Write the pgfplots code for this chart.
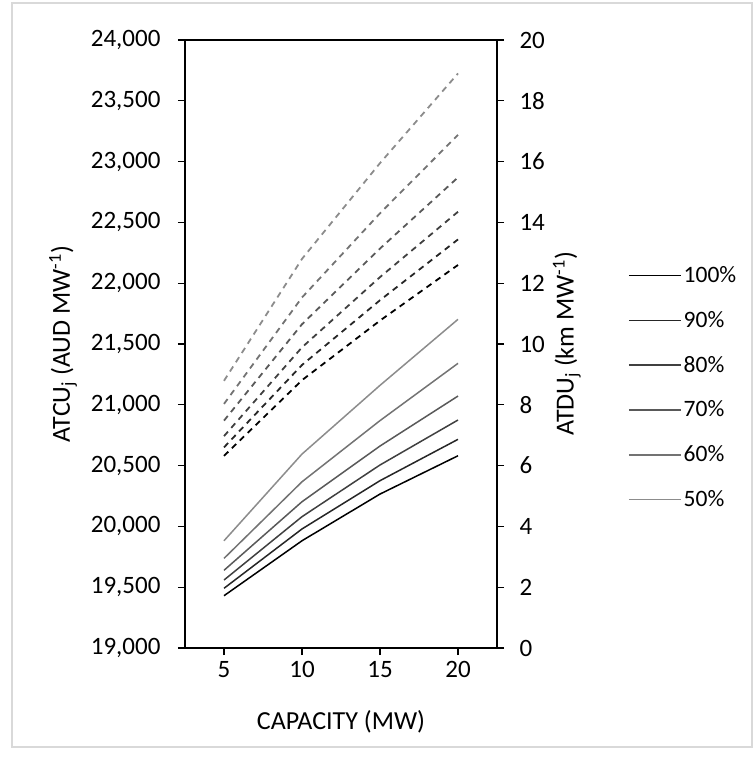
\documentclass[border=0pt]{standalone}
\usepackage{fontspec}
\setmainfont{Carlito}
\usepackage{pgfplots}
\pgfplotsset{compat=1.18}
\definecolor{c100}{HTML}{000000}
\definecolor{c90}{HTML}{262626}
\definecolor{c80}{HTML}{404040}
\definecolor{c70}{HTML}{595959}
\definecolor{c60}{HTML}{737373}
\definecolor{c50}{HTML}{8C8C8C}
\definecolor{frame}{HTML}{D9D9D9}
\begin{document}
\begin{tikzpicture}[x=1pt,y=1pt]
\path[use as bounding box] (0,0) rectangle (755,-760);
\draw[frame, line width=1.5pt] (12,-3) rectangle (752,-747);
\pgfplotsset{common/.style={scale only axis, width=312pt, height=608pt,
  at={(185pt,-648pt)}, anchor=south west,
  xmin=2.5, xmax=22.5, xtick={5,10,15,20},
  tick align=outside, major tick length=7pt,
  tick style={black, line width=1.2pt},
  axis line style={line width=1.3pt},
  /pgf/number format/assume math mode=true,
  ticklabel style={font=\fontsize{25}{30}\selectfont}}}
\begin{axis}[common,
  ymin=19000, ymax=24000, ytick={19000,19500,20000,20500,21000,21500,22000,22500,23000,23500,24000},
  ytick pos=left, xtick pos=bottom, scaled y ticks=false,
  yticklabel style={/pgf/number format/1000 sep={,}, xshift=-14pt},
  xticklabel style={yshift=-3pt},
  xlabel={CAPACITY (MW)},
  ylabel={ATCU\textsubscript{j} (AUD MW\textsuperscript{-1})},
  every axis y label/.style={at={(axis description cs:-0.391,0.5)}, rotate=90, anchor=center, font=\fontsize{26}{30}\selectfont},
  every axis x label/.style={at={(axis description cs:0.5,-0.1217)}, anchor=center, font=\fontsize{26}{30}\selectfont},
  legend style={draw=none, fill=none, at={(axis description cs:1.42,0.631)}, anchor=north west,
    font=\fontsize{23.5}{27}\selectfont, row sep=19.8pt, inner sep=0pt,
    nodes={inner sep=2pt, text height=16pt, text depth=5pt}},
  legend cell align=left,
  legend image code/.code={\draw[#1, line width=1.5pt] (0pt,1.5pt) -- (52pt,1.5pt);},
  ]
\addplot[c100, line width=1.5pt] coordinates {(5,19430) (10,19882) (15,20266) (20,20581)};
\addlegendentry{100\%}
\addplot[c90, line width=1.5pt] coordinates {(5,19491) (10,19979) (15,20376) (20,20716)};
\addlegendentry{90\%}
\addplot[c80, line width=1.5pt] coordinates {(5,19559) (10,20080) (15,20505) (20,20875)};
\addlegendentry{80\%}
\addplot[c70, line width=1.5pt] coordinates {(5,19639) (10,20203) (15,20661) (20,21072)};
\addlegendentry{70\%}
\addplot[c60, line width=1.5pt] coordinates {(5,19737) (10,20367) (15,20870) (20,21341)};
\addlegendentry{60\%}
\addplot[c50, line width=1.5pt] coordinates {(5,19882) (10,20595) (15,21160) (20,21703)};
\addlegendentry{50\%}
\end{axis}
\begin{axis}[common,
  ymin=0, ymax=20, ytick={0,2,...,20},
  axis y line*=right, axis x line=none,
  yticklabel style={xshift=12pt},
  ylabel={ATDU\textsubscript{j} (km MW\textsuperscript{-1})},
  every axis y label/.style={at={(axis description cs:1.224,0.5)}, rotate=90, anchor=center, font=\fontsize{26}{30}\selectfont},
  ]
\addplot[c100, line width=1.8pt, dash pattern=on 6pt off 5pt] coordinates {(5,6.32) (10,8.81) (15,10.77) (20,12.60)};
\addplot[c90, line width=1.8pt, dash pattern=on 6pt off 5pt] coordinates {(5,6.60) (10,9.31) (15,11.44) (20,13.44)};
\addplot[c80, line width=1.8pt, dash pattern=on 6pt off 5pt] coordinates {(5,6.97) (10,9.89) (15,12.20) (20,14.35)};
\addplot[c70, line width=1.8pt, dash pattern=on 6pt off 5pt] coordinates {(5,7.48) (10,10.65) (15,13.14) (20,15.48)};
\addplot[c60, line width=1.8pt, dash pattern=on 6pt off 5pt] coordinates {(5,8.03) (10,11.53) (15,14.30) (20,16.88)};
\addplot[c50, line width=1.8pt, dash pattern=on 6pt off 5pt] coordinates {(5,8.79) (10,12.80) (15,15.95) (20,18.90)};
\end{axis}
\end{tikzpicture}
\end{document}
